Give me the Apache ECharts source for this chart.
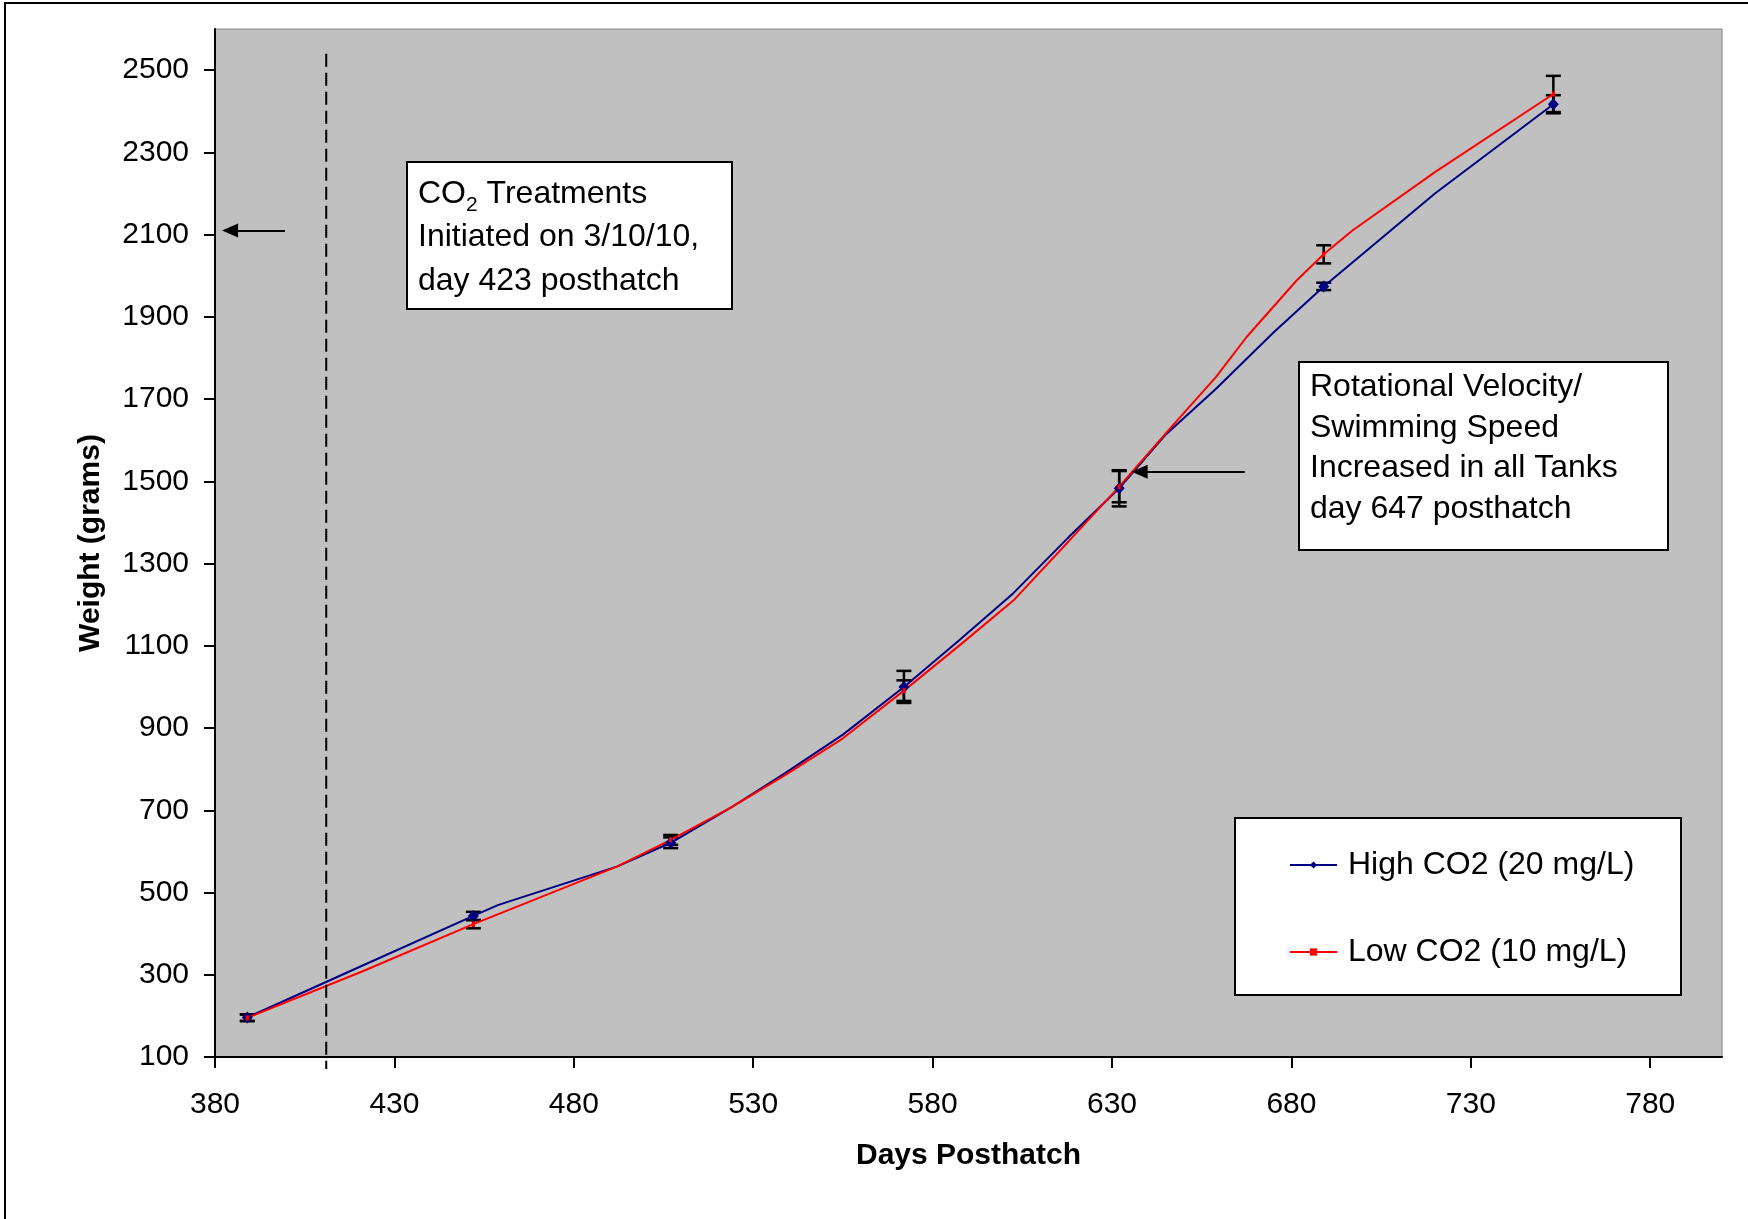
<!DOCTYPE html>
<html>
<head>
<meta charset="utf-8">
<title>Weight by Days Posthatch</title>
<script src="https://cdn.jsdelivr.net/npm/echarts@6/dist/echarts.min.js"></script>
<style>
  html, body { margin: 0; padding: 0; background: #fff; }
  #chart { width: 1748px; height: 1219px; }
</style>
</head>
<body>
<div id="chart"></div>
<script>
// axis ticks
const xTicks = [380, 430, 480, 530, 580, 630, 680, 730, 780];
const yTicks = [100, 300, 500, 700, 900, 1100, 1300, 1500, 1700, 1900, 2100, 2300, 2500];

// sampling days with mean +/- error (markers and error bars)
const sampleDays = [389, 452, 507, 572, 632, 689, 753];
const highMean = [196, 443, 621, 1000, 1483, 1974, 2417];
const highErr  = [8, 10, 13, 39, 44, 9, 22];
const lowMean  = [195, 423, 628, 991, 1487, 2052, 2442];
const lowErr   = [8, 10, 12, 25, 38, 22, 44];

// in-between weighings (line only, no marker)
const highMidDays   = [421, 459, 492, 523.5, 539, 555, 587.5, 602.5, 618, 645, 659, 675, 720];
const highMidWeight = [322, 470, 563, 705, 791, 884, 1114, 1228, 1365, 1614, 1725, 1862, 2200];
const lowMidDays    = [421, 492, 523.5, 539, 555, 587.5, 602.5, 618, 646.5, 659, 667.5, 681.5, 697, 720];
const lowMidWeight  = [308, 563, 705, 786, 875, 1101, 1210, 1355, 1632, 1754, 1851, 1989, 2110, 2252];

const highName = 'High CO2 (20 mg/L)';
const lowName = 'Low CO2 (10 mg/L)';
const treatmentDay = 411;

const FONT = '"Liberation Sans", Arial, sans-serif';

// merge sample points and mid points into one path, markers only on samples
function buildPath(means, midDays, midWeight) {
    const pts = [];
    sampleDays.forEach((d, i) => pts.push({ value: [d, means[i]] }));
    midDays.forEach((d, i) => pts.push({ value: [d, midWeight[i]], symbol: 'none' }));
    pts.sort((a, b) => a.value[0] - b.value[0]);
    return pts;
}

function errorBars(means, errs) {
    return sampleDays.map((d, i) => [d, means[i], errs[i]]);
}

function renderErrorBar(params, api) {
    const x = api.value(0), m = api.value(1), e = api.value(2);
    const top = api.coord([x, m + e]);
    const bot = api.coord([x, m - e]);
    const hw = 7.5;
    const style = { stroke: '#000', lineWidth: 2.5 };
    return {
        type: 'group',
        children: [
            { type: 'line', shape: { x1: top[0], y1: top[1], x2: bot[0], y2: bot[1] }, style },
            { type: 'line', shape: { x1: top[0] - hw, y1: top[1], x2: top[0] + hw, y2: top[1] }, style },
            { type: 'line', shape: { x1: bot[0] - hw, y1: bot[1], x2: bot[0] + hw, y2: bot[1] }, style }
        ]
    };
}

const chart = echarts.init(document.getElementById('chart'));

const boxText = { fill: '#000', fontSize: 32, fontFamily: FONT };

chart.setOption({
    backgroundColor: '#fff',
    animation: false,
    grid: {
        left: 215, top: 29, right: 26, bottom: 162,
        show: true,
        backgroundColor: '#C0C0C0',
        borderColor: '#808080',
        borderWidth: 1,
        outerBoundsMode: 'none'
    },
    xAxis: {
        type: 'value',
        min: 380, max: 800,
        name: 'Days Posthatch',
        nameLocation: 'middle',
        nameGap: 84,
        nameTextStyle: { fontSize: 30, fontWeight: 'bold', fontFamily: FONT, color: '#000' },
        axisLine: { show: true, onZero: false, lineStyle: { color: '#000', width: 2 } },
        axisTick: { show: true, length: 11, lineStyle: { color: '#000', width: 2 }, customValues: xTicks },
        axisLabel: { fontSize: 30, fontFamily: FONT, color: '#000', margin: 33, customValues: xTicks,
                     formatter: v => String(v) },
        splitLine: { show: false }
    },
    yAxis: {
        type: 'value',
        min: 100, max: 2600,
        name: 'Weight (grams)',
        nameLocation: 'middle',
        nameGap: 109,
        nameTextStyle: { fontSize: 30, fontWeight: 'bold', fontFamily: FONT, color: '#000' },
        axisLine: { show: true, onZero: false, lineStyle: { color: '#000', width: 2 } },
        axisTick: { show: true, length: 11, lineStyle: { color: '#000', width: 2 }, customValues: yTicks },
        axisLabel: { fontSize: 30, fontFamily: FONT, color: '#000', margin: 26, customValues: yTicks,
                     formatter: v => String(v) },
        splitLine: { show: false }
    },
    legend: {
        left: 1284, top: 840,
        orient: 'vertical',
        itemWidth: 47, itemHeight: 9, itemGap: 47,
        selectedMode: false,
        textStyle: { fontSize: 32, fontFamily: FONT, color: '#000', lineHeight: 40, padding: [0, 0, 0, 6] },
        data: [highName, lowName],
        z: 10
    },
    graphic: [
        { id: 'frame', type: 'rect', z: 1, silent: true,
          shape: { x: 5, y: 3, width: 1800, height: 1300 },
          style: { fill: 'none', stroke: '#000', lineWidth: 2 } },
        { id: 'box1', type: 'rect', z: 5,
          shape: { x: 407, y: 162, width: 325, height: 147 },
          style: { fill: '#fff', stroke: '#000', lineWidth: 2 } },
        { id: 'box1text', type: 'text', z: 6,
          style: Object.assign({}, boxText, {
              x: 418, y: 172, align: 'left', verticalAlign: 'top',
              text: '{n|CO}{s|2}{n| Treatments}\n{n|Initiated on 3/10/10,}\n{n|day 423 posthatch}',
              rich: {
                  n: { fontSize: 32, fontFamily: FONT, lineHeight: 43.5 },
                  s: { fontSize: 21, fontFamily: FONT, lineHeight: 23, verticalAlign: 'bottom' }
              }
          }) },
        { id: 'box2', type: 'rect', z: 5,
          shape: { x: 1299, y: 362, width: 369, height: 188 },
          style: { fill: '#fff', stroke: '#000', lineWidth: 2 } },
        { id: 'box2text', type: 'text', z: 6,
          style: Object.assign({}, boxText, {
              x: 1310, y: 367, align: 'left', verticalAlign: 'top', lineHeight: 40.5,
              text: 'Rotational Velocity/\nSwimming Speed\nIncreased in all Tanks\nday 647 posthatch'
          }) },
        { id: 'legendBox', type: 'rect', z: 5,
          shape: { x: 1235, y: 818, width: 446, height: 177 },
          style: { fill: '#fff', stroke: '#000', lineWidth: 2 } }
    ],
    series: [
        {
            type: 'custom', name: 'highErr', z: 2, silent: true,
            renderItem: renderErrorBar,
            encode: { x: 0, y: 1 },
            data: errorBars(highMean, highErr)
        },
        {
            type: 'custom', name: 'lowErr', z: 2, silent: true,
            renderItem: renderErrorBar,
            encode: { x: 0, y: 1 },
            data: errorBars(lowMean, lowErr)
        },
        {
            type: 'line', name: highName, z: 3,
            data: buildPath(highMean, highMidDays, highMidWeight),
            symbol: 'diamond', symbolSize: [11, 12],
            showSymbol: true,
            itemStyle: { color: '#000080' },
            lineStyle: { color: '#000080', width: 2 },
            markLine: {
                silent: true,
                label: { show: false },
                lineStyle: { color: '#000', width: 2, type: 'solid' },
                symbol: ['none', 'triangle'],
                symbolSize: [14, 16],
                data: [
                    [{ coord: [399.5, 2110] }, { coord: [384.2, 2110] }],
                    [{ coord: [667, 1523] }, { coord: [637.7, 1523] }]
                ]
            }
        },
        {
            type: 'line', name: lowName, z: 3,
            data: buildPath(lowMean, lowMidDays, lowMidWeight),
            // small tick-like marker, as in the original legend
            symbol: 'path://M0,0H3V4H0Z', symbolKeepAspect: true, symbolSize: [4, 5],
            showSymbol: true,
            itemStyle: { color: '#FF0000' },
            lineStyle: { color: '#FF0000', width: 2 }
        }
    ]
});

// dashed line marking start of treatments, hangs just below the x axis like the original
const dashTop = chart.convertToPixel({ gridIndex: 0 }, [treatmentDay, 2540]);
const dashBase = chart.convertToPixel({ gridIndex: 0 }, [treatmentDay, 100]);
chart.setOption({
    graphic: [{
        id: 'treatmentLine', type: 'line', z: 4, silent: true,
        shape: { x1: dashTop[0], y1: dashTop[1], x2: dashBase[0], y2: dashBase[1] + 12 },
        style: { stroke: '#000', lineWidth: 2, lineDash: [13, 6] }
    }]
});
</script>
</body>
</html>
